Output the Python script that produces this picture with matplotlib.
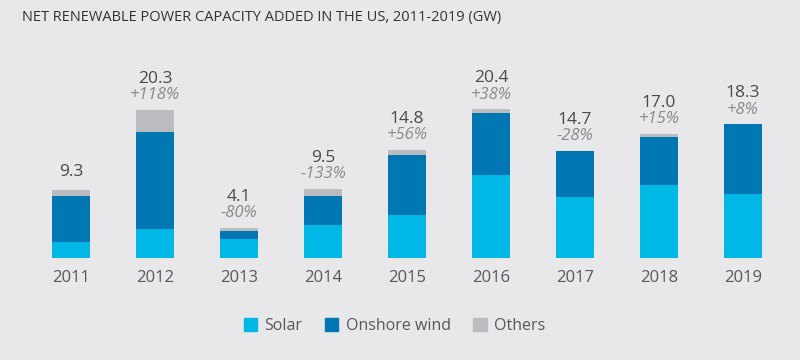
import matplotlib
matplotlib.use("Agg")
import matplotlib.pyplot as plt
from matplotlib.patches import Patch
import numpy as np

years = ["2011", "2012", "2013", "2014", "2015", "2016", "2017", "2018", "2019"]
solar = [2.1, 3.9, 2.6, 4.5, 5.9, 11.3, 8.3, 10.0, 8.8]
wind = [6.4, 13.3, 1.0, 4.0, 8.2, 8.6, 6.4, 6.6, 9.5]
others = [0.8, 3.1, 0.5, 1.0, 0.7, 0.5, 0.0, 0.4, 0.0]
totals = ["9.3", "20.3", "4.1", "9.5", "14.8", "20.4", "14.7", "17.0", "18.3"]
changes = ["", "+118%", "-80%", "-133%", "+56%", "+38%", "-28%", "+15%", "+8%"]

BG = "#e8e8ea"
C_SOLAR = "#00b8e6"
C_WIND = "#0077b3"
C_OTH = "#bbbcc0"

plt.rcParams['font.family'] = ['Open Sans', 'DejaVu Sans']

fig = plt.figure(figsize=(8, 3.6), dpi=100, facecolor=BG)
ax = fig.add_axes([0, 0, 1, 1])
ax.set_facecolor(BG)
ax.set_axis_off()

x = np.arange(len(years))
w = 0.464
s = np.array(solar); wd = np.array(wind); o = np.array(others)
ax.bar(x, s, w, color=C_SOLAR, linewidth=0)
ax.bar(x, wd, w, bottom=s, color=C_WIND, linewidth=0)
ax.bar(x, o, w, bottom=s + wd, color=C_OTH, linewidth=0)

px = 7.28
ax.set_xlim(-71 / 84, (800 - 71) / 84)
ax.set_ylim(-102.3 / px, 257.7 / px)

tops = s + wd + o
for i in range(len(years)):
    if changes[i]:
        ax.annotate(changes[i], (x[i], tops[i]), xytext=(0, 14.5 * 0.72),
                    textcoords="offset points", ha="center", va="center",
                    fontsize=12, style="italic", color="#8a8a8c")
        off = 31
    else:
        off = 18
    ax.annotate(totals[i], (x[i], tops[i]), xytext=(0, off * 0.72),
                textcoords="offset points", ha="center", va="center",
                fontsize=12.5, color="#4a4a4c")
    ax.text(x[i], -20.3 / px, years[i], ha="center", va="center",
            fontsize=12, color="#58585a")

fig.text(22 / 800, 1 - 18 / 360, "NET RENEWABLE POWER CAPACITY ADDED IN THE US, 2011-2019 (GW)",
         ha="left", va="center", fontsize=10.5, color="#333335")

handles = [Patch(color=C_SOLAR, label="Solar"),
           Patch(color=C_WIND, label="Onshore wind"),
           Patch(color=C_OTH, label="Others")]
leg = fig.legend(handles=handles, loc="center", bbox_to_anchor=(0.493, 1 - 326 / 360),
                 ncol=3, frameon=False, fontsize=11.5, handlelength=0.85, handleheight=0.85,
                 handletextpad=0.45, columnspacing=1.4)
for t in leg.get_texts():
    t.set_color("#58585a")

fig.savefig("out.png", dpi=100, facecolor=BG)
